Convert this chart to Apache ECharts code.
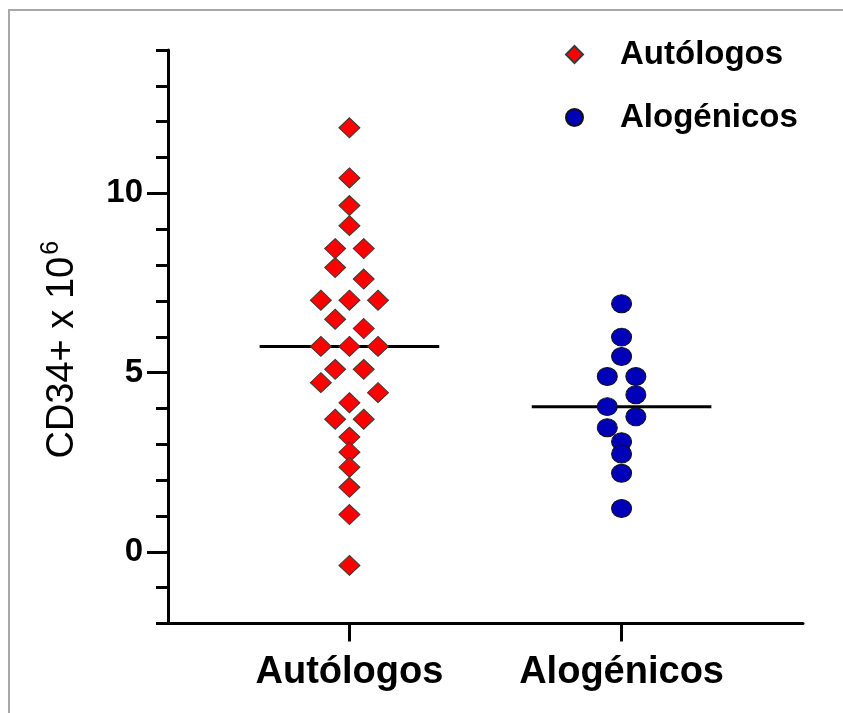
<!DOCTYPE html>
<html>
<head>
<meta charset="utf-8">
<script src="https://cdn.jsdelivr.net/npm/echarts@6/dist/echarts.min.js"></script>
<style>
  html, body { margin: 0; padding: 0; background: #fff; }
  #chart { width: 843px; height: 713px; }
</style>
</head>
<body>
<div id="chart"></div>
<script>
var groups = ['Autólogos', 'Alogénicos'];
var autologos = [11.83, 10.43, 9.66, 9.10, 8.46, 8.46, 7.93, 7.61, 7.02, 7.02, 7.02,
  6.49, 6.23, 5.73, 5.73, 5.73, 5.09, 5.09, 4.72, 4.44, 4.16, 3.70, 3.70,
  3.20, 2.78, 2.36, 1.80, 1.04, -0.38];
var alogenicos = [6.92, 5.99, 5.45, 4.89, 4.89, 4.38, 4.05, 3.77, 3.46, 3.07,
  2.73, 2.19, 1.21];
var yMajor = [0, 5, 10];

var FONT = '"Liberation Sans", Arial, sans-serif';

function median(arr) {
  var s = arr.slice().sort(function (a, b) { return a - b; });
  var n = s.length;
  return n % 2 ? s[(n - 1) / 2] : (s[n / 2 - 1] + s[n / 2]) / 2;
}

// spread close points sideways, like a prism scatter column
function spread(values, center, step, flip) {
  var s = values.slice().sort(function (a, b) { return b - a; });
  var out = [];
  var i = 0;
  while (i < s.length) {
    var cl = [s[i]];
    var j = i + 1;
    while (j < s.length && s[j - 1] - s[j] < 0.335) { cl.push(s[j]); j++; }
    var k = 1;
    for (; k < cl.length; k++) {
      var ok = true;
      for (var a = k; a < cl.length; a++) {
        if (cl[a - k] - cl[a] < 0.57) { ok = false; break; }
      }
      if (ok) break;
    }
    var pos = [];
    for (var p = 0; p < k; p++) pos.push(p - (k - 1) / 2);
    pos.sort(function (x, y) { return Math.abs(y) - Math.abs(x) || x - y; });
    cl.forEach(function (v, idx) {
      var off = pos[idx % k];
      if (flip && cl.length > 3) off = -off;
      out.push([center + off * step, v]);
    });
    i = j;
  }
  return out;
}

function medianLine(values, center) {
  var m = median(values);
  return [[center - 0.33, m], [center + 0.33, m]];
}

var chart = echarts.init(document.getElementById('chart'));

var option = {
  backgroundColor: '#fff',
  animation: false,
  textStyle: { fontFamily: FONT },
  graphic: [
    { type: 'polyline', shape: { points: [[9, 713], [9, 10], [843, 10]] },
      style: { stroke: '#a8a8a8', lineWidth: 2, fill: null } }
  ],
  legend: {
    orient: 'vertical',
    left: 560,
    top: 33,
    itemWidth: 17,
    itemHeight: 17,
    itemGap: 30,
    data: [
      { name: groups[0], icon: 'diamond' },
      { name: groups[1], icon: 'circle' }
    ],
    textStyle: { fontSize: 33, fontWeight: 'bold', color: '#000', fontFamily: FONT,
      padding: [0, 0, 0, 32] }
  },
  grid: { left: 168, top: 50, right: 40, bottom: 89.5, containLabel: false },
  xAxis: {
    type: 'value',
    min: 1 / 3,
    max: 8 / 3,
    splitLine: { show: false },
    axisLine: { onZero: false, lineStyle: { color: '#000', width: 3 } },
    axisTick: { customValues: [1, 2], length: 18, lineStyle: { color: '#000', width: 3 } },
    axisLabel: {
      customValues: [1, 2],
      formatter: function (v) { return groups[Math.round(v) - 1]; },
      fontSize: 38, fontWeight: 'bold', color: '#000', margin: 30
    }
  },
  yAxis: [{
    type: 'value',
    min: -2,
    max: 14,
    interval: 1,
    splitLine: { show: false },
    axisLine: { show: true, onZero: false, lineStyle: { color: '#000', width: 3 } },
    axisTick: { length: 12, lineStyle: { color: '#000', width: 3 } },
    axisLabel: { show: false }
  }, {
    type: 'value',
    min: -2,
    max: 14,
    position: 'left',
    splitLine: { show: false },
    axisLine: { show: false },
    axisTick: { customValues: yMajor, length: 21, lineStyle: { color: '#000', width: 3 } },
    axisLabel: { customValues: yMajor, fontSize: 33, fontWeight: 'bold', color: '#000', margin: 25 },
    name: '{a|CD34+ x 10}{b|6}',
    nameLocation: 'middle',
    nameRotate: 90,
    nameGap: 86,
    nameTextStyle: {
      padding: [0, 26, 0, 0],
      rich: {
        a: { fontSize: 38, color: '#000', fontFamily: FONT, verticalAlign: 'bottom' },
        b: { fontSize: 25, color: '#000', fontFamily: FONT, verticalAlign: 'bottom',
          padding: [0, 0, 18, 2] }
      }
    }
  }],
  series: [{
    name: 'median-auto',
    type: 'line',
    data: medianLine(autologos, 1),
    symbol: 'none',
    silent: true,
    z: 1,
    lineStyle: { color: '#000', width: 3 }
  }, {
    name: 'median-alo',
    type: 'line',
    data: medianLine(alogenicos, 2),
    symbol: 'none',
    silent: true,
    z: 1,
    lineStyle: { color: '#000', width: 3 }
  }, {
    name: groups[0],
    type: 'scatter',
    data: spread(autologos, 1, 0.105, false),
    symbol: 'diamond',
    symbolSize: [21, 20],
    z: 3,
    itemStyle: { color: '#ff0000', borderColor: '#3a3a3a', borderWidth: 1, opacity: 1 }
  }, {
    name: groups[1],
    type: 'scatter',
    data: spread(alogenicos, 2, 0.105, true),
    symbol: 'circle',
    symbolSize: [20, 18],
    z: 3,
    itemStyle: { color: '#0000b8', borderColor: '#111', borderWidth: 1, opacity: 1 }
  }]
};

chart.setOption(option);
</script>
</body>
</html>
